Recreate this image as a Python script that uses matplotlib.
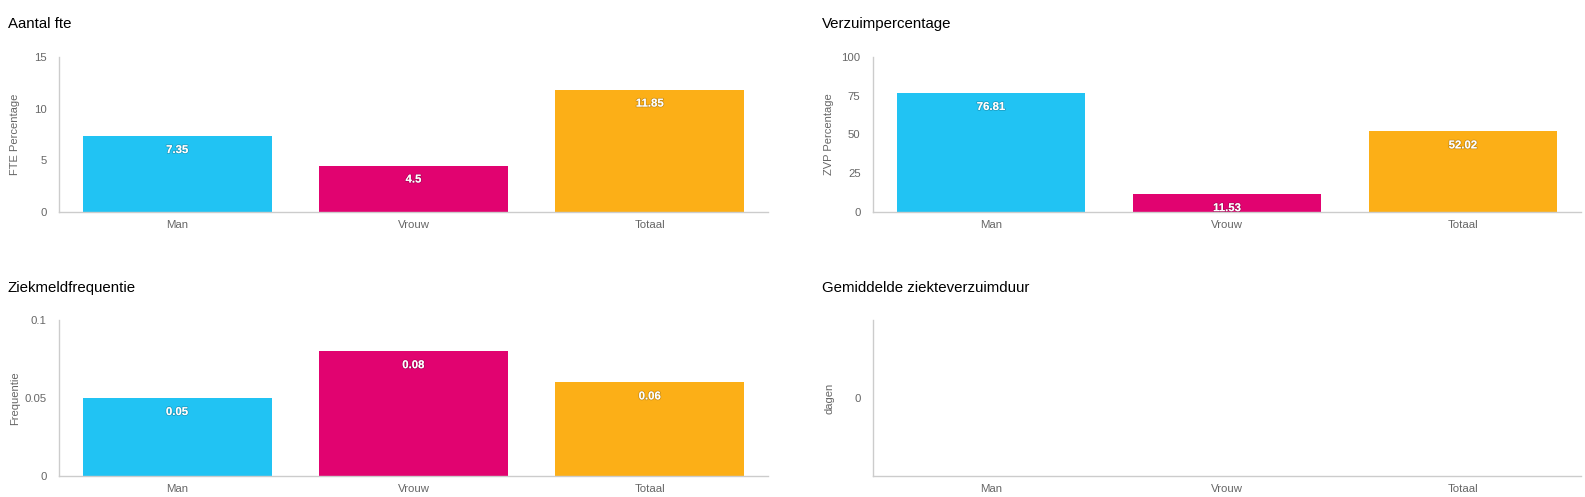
import matplotlib
matplotlib.use("Agg")
import matplotlib.pyplot as plt
import matplotlib.patheffects as pe

plt.rcParams['font.family'] = ['Liberation Sans', 'DejaVu Sans']

categories = ["Man", "Vrouw", "Totaal"]
colors = ["#21C3F3", "#E10370", "#FCAF17"]

fte_values = [7.35, 4.5, 11.85]
fte_labels = ["7.35", "4.5", "11.85"]
zvp_values = [76.81, 11.53, 52.02]
zvp_labels = ["76.81", "11.53", "52.02"]
freq_values = [0.05, 0.08, 0.06]
freq_labels = ["0.05", "0.08", "0.06"]
duur_values = []  # no data

W, H = 1585, 497
fig = plt.figure(figsize=(W / 100, H / 100), dpi=100)

def make_axes(left, right, top, bottom):
    ax = fig.add_axes([left / W, 1 - bottom / H, (right - left) / W, (bottom - top) / H])
    ax._px = (left, right)
    return ax

GREY = "#666666"
AXIS = "#CCCCCC"

def style(ax, ylabel, yticks, yticklabels, ylim, label_x):
    ax.set_xlim(-0.5, 2.5)
    ax.set_ylim(*ylim)
    for s in ["top", "right"]:
        ax.spines[s].set_visible(False)
    for s in ["left", "bottom"]:
        ax.spines[s].set_color(AXIS)
        ax.spines[s].set_linewidth(1.0)
    ax.set_xticks(range(len(categories)))
    ax.set_xticklabels(categories)
    ax.set_yticks(yticks)
    ax.set_yticklabels(yticklabels)
    ax.tick_params(axis="both", length=0, colors=GREY, labelsize=8.2)
    ax.tick_params(axis="x", pad=6)
    ax.tick_params(axis="y", pad=9)
    ax.set_ylabel(ylabel, color=GREY, fontsize=8, va="center")
    left, right = ax._px
    ax.yaxis.set_label_coords((label_x - left) / (right - left), 0.5)

def bars(ax, values, labels):
    ax.bar(range(len(values)), values, width=0.8, color=colors[:len(values)], zorder=2)
    for i, (v, lab) in enumerate(zip(values, labels)):
        ax.annotate(lab, xy=(i, v), xytext=(0, -14), textcoords="offset pixels",
                    ha="center", va="center", color="white", fontsize=8.2, fontweight="bold",
                    zorder=3,
                    path_effects=[pe.withStroke(linewidth=1.2, foreground="#00000030")])

def title(x, y, text):
    fig.text(x / W, 1 - y / H, text, fontsize=10.8, color="#000000", ha="left", va="center")

# Top-left
ax1 = make_axes(59, 768, 57, 212)
bars(ax1, fte_values, fte_labels)
style(ax1, "FTE Percentage", [0, 5, 10, 15], ["0", "5", "10", "15"], (0, 15), 15)
title(8, 24, "Aantal fte")

# Top-right
ax2 = make_axes(873, 1581, 57, 212)
bars(ax2, zvp_values, zvp_labels)
style(ax2, "ZVP Percentage", [0, 25, 50, 75, 100], ["0", "25", "50", "75", "100"], (0, 100), 829)
title(822, 24, "Verzuimpercentage")

# Bottom-left
ax3 = make_axes(59, 768, 320, 476)
bars(ax3, freq_values, freq_labels)
style(ax3, "Frequentie", [0, 0.05, 0.1], ["0", "0.05", "0.1"], (0, 0.1), 15)
title(8, 288, "Ziekmeldfrequentie")

# Bottom-right (empty)
ax4 = make_axes(873, 1581, 320, 476)
style(ax4, "dagen", [0], ["0"], (-1, 1), 829)
title(822, 288, "Gemiddelde ziekteverzuimduur")

fig.savefig("out.png", dpi=100, facecolor="white")
